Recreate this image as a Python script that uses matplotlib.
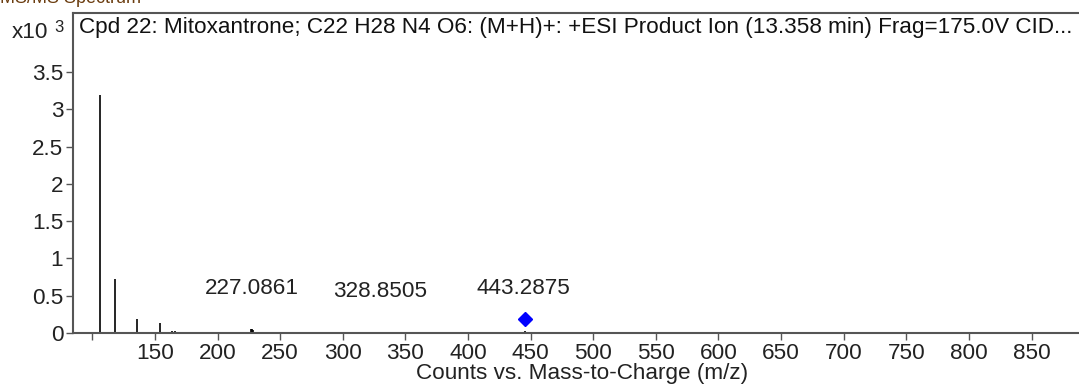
import numpy as np
import matplotlib
matplotlib.use("Agg")
import matplotlib.pyplot as plt

plt.rcParams['font.family'] = ['Liberation Sans', 'DejaVu Sans']

# product ion peaks (m/z, counts x10^3)
mz = [106.1, 118.1, 135.9, 146.0, 154.0, 164.0, 166.0, 169.0, 180.0, 188.6,
      226.5, 227.3, 228.6, 242.5, 290.6, 331.0, 373.0, 387.5, 445.4]
counts = [3.19, 0.72, 0.19, 0.02, 0.13, 0.03, 0.03, 0.02, 0.02, 0.02,
          0.05, 0.05, 0.04, 0.01, 0.01, 0.01, 0.01, 0.01, 0.03]

# precursor marker
precursor_mz = 445.3
precursor_counts = 0.19

# peak labels
label_text = ["227.0861", "328.8505", "443.2875"]
label_x = [227.2, 329.7, 444.0]
label_y = [0.60, 0.55, 0.60]

title = ("Cpd 22: Mitoxantrone; C22 H28 N4 O6: (M+H)+: +ESI Product Ion "
         "(13.358 min) Frag=175.0V CID...")

fs = 16.2

fig = plt.figure(figsize=(10.79, 3.87), dpi=100)
ax = fig.add_axes([73 / 1079, 54 / 387, 1009 / 1079, 320 / 387])

ax.vlines(mz, 0, counts, color='black', lw=1.2)
ax.plot([precursor_mz], [precursor_counts], marker='D', color='#0000ff',
        ms=7.5, ls='none')

for t, x, y in zip(label_text, label_x, label_y):
    ax.text(x, y, t, ha='center', va='center', fontsize=fs, color='#222222')

ax.set_xlim(84.6, 890.3)
ax.set_ylim(0, 4.29)

ax.set_xticks(np.arange(100, 851, 50))
ax.set_xticklabels([''] + [str(v) for v in range(150, 851, 50)])
yt = np.arange(0, 3.51, 0.5)
ax.set_yticks(yt)
ax.set_yticklabels([('%g' % v) for v in yt])

ax.tick_params(axis='both', labelsize=fs, colors='#222222', length=5,
               width=1, pad=2, color='#555555')
for s in ax.spines.values():
    s.set_color('#555555')
    s.set_linewidth(1.5)

ax.set_xlabel("Counts vs. Mass-to-Charge (m/z)", fontsize=fs,
              color='#222222', va='center')
ax.xaxis.set_label_coords(0.505, -0.125)

ax.text(0.006, 0.955, title, transform=ax.transAxes, ha='left', va='center',
        fontsize=fs, color='#111111')

fig.text(12 / 1079, 1 - 33 / 387, "x10", ha='left', va='center',
         fontsize=fs, color='#222222')
fig.text(54 / 1079, 1 - 27 / 387, "3", ha='left', va='center',
         fontsize=12, color='#222222')
# header of the report, mostly cropped away at the top edge
fig.text(0.0, 1.0 + 1 / 387, "MS/MS Spectrum", ha='left', va='center',
         fontsize=13, color='#6b3d10')

fig.savefig("out.png", dpi=100)
